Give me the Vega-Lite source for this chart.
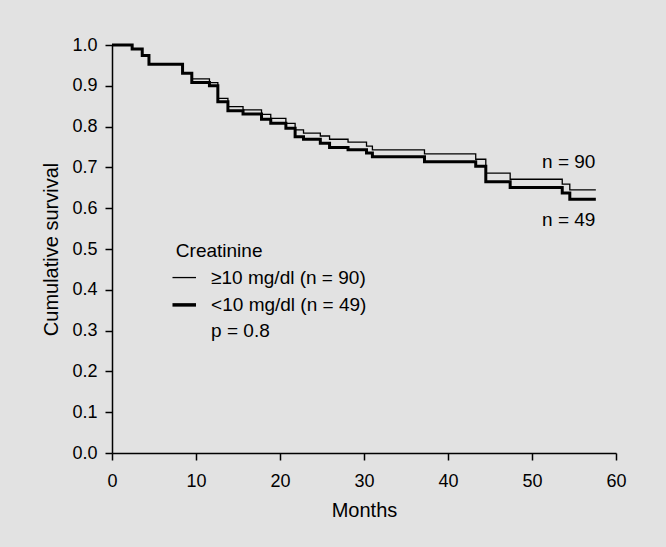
{
  "$schema": "https://vega.github.io/schema/vega-lite/v6.json",
  "width": 504,
  "height": 408,
  "autosize": {"type": "none"},
  "padding": {"left": 112, "top": 45, "right": 50, "bottom": 94},
  "background": "#e2e2e2",
  "config": {
    "view": {"stroke": null},
    "font": "Liberation Sans",
    "axis": {
      "grid": false,
      "domainColor": "#000000",
      "domainWidth": 1.5,
      "tickColor": "#000000",
      "tickWidth": 1.5,
      "tickSize": 7,
      "labelColor": "#000000",
      "titleColor": "#000000",
      "labelFontSize": 18,
      "titleFontSize": 20,
      "titleFontWeight": "normal",
      "labelPadding": 8,
      "labelFlush": false,
      "labelFont": "Liberation Sans",
      "titleFont": "Liberation Sans"
    }
  },
  "datasets": {
    "curves": [
      {"group": "ge10", "month": 0, "surv": 1.0},
      {"group": "ge10", "month": 2.4, "surv": 0.99},
      {"group": "ge10", "month": 3.6, "surv": 0.974},
      {"group": "ge10", "month": 4.4, "surv": 0.953},
      {"group": "ge10", "month": 8.4, "surv": 0.931},
      {"group": "ge10", "month": 9.5, "surv": 0.917},
      {"group": "ge10", "month": 11.6, "surv": 0.908},
      {"group": "ge10", "month": 12.6, "surv": 0.869},
      {"group": "ge10", "month": 13.8, "surv": 0.849},
      {"group": "ge10", "month": 15.6, "surv": 0.841},
      {"group": "ge10", "month": 17.8, "surv": 0.83},
      {"group": "ge10", "month": 18.9, "surv": 0.82},
      {"group": "ge10", "month": 20.7, "surv": 0.808},
      {"group": "ge10", "month": 21.8, "surv": 0.792},
      {"group": "ge10", "month": 22.8, "surv": 0.784},
      {"group": "ge10", "month": 24.8, "surv": 0.777},
      {"group": "ge10", "month": 25.9, "surv": 0.769},
      {"group": "ge10", "month": 28.1, "surv": 0.762},
      {"group": "ge10", "month": 30.3, "surv": 0.752},
      {"group": "ge10", "month": 31.0, "surv": 0.743},
      {"group": "ge10", "month": 37.2, "surv": 0.733},
      {"group": "ge10", "month": 43.3, "surv": 0.72},
      {"group": "ge10", "month": 44.5, "surv": 0.686},
      {"group": "ge10", "month": 47.4, "surv": 0.671},
      {"group": "ge10", "month": 53.6, "surv": 0.659},
      {"group": "ge10", "month": 54.5, "surv": 0.645},
      {"group": "ge10", "month": 57.6, "surv": 0.645},
      {"group": "lt10", "month": 0, "surv": 1.0},
      {"group": "lt10", "month": 2.4, "surv": 0.99},
      {"group": "lt10", "month": 3.6, "surv": 0.974},
      {"group": "lt10", "month": 4.4, "surv": 0.953},
      {"group": "lt10", "month": 8.4, "surv": 0.931},
      {"group": "lt10", "month": 9.5, "surv": 0.908},
      {"group": "lt10", "month": 11.6, "surv": 0.9},
      {"group": "lt10", "month": 12.6, "surv": 0.861},
      {"group": "lt10", "month": 13.8, "surv": 0.839},
      {"group": "lt10", "month": 15.6, "surv": 0.831},
      {"group": "lt10", "month": 17.8, "surv": 0.818},
      {"group": "lt10", "month": 18.9, "surv": 0.808},
      {"group": "lt10", "month": 20.7, "surv": 0.796},
      {"group": "lt10", "month": 21.8, "surv": 0.775},
      {"group": "lt10", "month": 22.8, "surv": 0.769},
      {"group": "lt10", "month": 24.8, "surv": 0.759},
      {"group": "lt10", "month": 25.9, "surv": 0.749},
      {"group": "lt10", "month": 28.1, "surv": 0.743},
      {"group": "lt10", "month": 30.3, "surv": 0.735},
      {"group": "lt10", "month": 31.0, "surv": 0.726},
      {"group": "lt10", "month": 37.2, "surv": 0.714},
      {"group": "lt10", "month": 43.3, "surv": 0.703},
      {"group": "lt10", "month": 44.5, "surv": 0.665},
      {"group": "lt10", "month": 47.4, "surv": 0.651},
      {"group": "lt10", "month": 53.6, "surv": 0.637},
      {"group": "lt10", "month": 54.5, "surv": 0.622},
      {"group": "lt10", "month": 57.6, "surv": 0.622}
    ],
    "legendLines": [
      {"group": "ge10", "x1": 7.2, "x2": 10.0, "y": 0.43},
      {"group": "lt10", "x1": 7.2, "x2": 10.0, "y": 0.363}
    ],
    "labels": [
      {"label": "Creatinine", "x": 7.6, "y": 0.495},
      {"label": "≥10 mg/dl (n = 90)", "x": 11.8, "y": 0.43},
      {"label": "<10 mg/dl (n = 49)", "x": 11.8, "y": 0.363},
      {"label": "p = 0.8", "x": 11.8, "y": 0.298},
      {"label": "n = 90", "x": 51.2, "y": 0.714},
      {"label": "n = 49", "x": 51.2, "y": 0.571}
    ]
  },
  "layer": [
    {
      "data": {"name": "curves"},
      "transform": [{"filter": "datum.group === 'ge10'"}],
      "mark": {"type": "line", "interpolate": "step-after", "color": "#000000", "strokeWidth": 1.3},
      "encoding": {
        "x": {
          "field": "month", "type": "quantitative",
          "scale": {"domain": [0, 60], "nice": false, "zero": false},
          "axis": {"values": [0, 10, 20, 30, 40, 50, 60], "title": "Months", "labelPadding": 12, "titlePadding": 10}
        },
        "y": {
          "field": "surv", "type": "quantitative",
          "scale": {"domain": [0, 1], "nice": false},
          "axis": {"values": [0, 0.1, 0.2, 0.3, 0.4, 0.5, 0.6, 0.7, 0.8, 0.9, 1.0], "format": ".1f", "title": "Cumulative survival", "titlePadding": 10}
        }
      }
    },
    {
      "data": {"name": "curves"},
      "transform": [{"filter": "datum.group === 'lt10'"}],
      "mark": {"type": "line", "interpolate": "step-after", "color": "#000000", "strokeWidth": 3},
      "encoding": {
        "x": {"field": "month", "type": "quantitative"},
        "y": {"field": "surv", "type": "quantitative"}
      }
    },
    {
      "data": {"name": "legendLines"},
      "transform": [{"filter": "datum.group === 'ge10'"}],
      "mark": {"type": "rule", "color": "#000000", "strokeWidth": 1.3},
      "encoding": {
        "x": {"field": "x1", "type": "quantitative"},
        "x2": {"field": "x2"},
        "y": {"field": "y", "type": "quantitative"}
      }
    },
    {
      "data": {"name": "legendLines"},
      "transform": [{"filter": "datum.group === 'lt10'"}],
      "mark": {"type": "rule", "color": "#000000", "strokeWidth": 3.5},
      "encoding": {
        "x": {"field": "x1", "type": "quantitative"},
        "x2": {"field": "x2"},
        "y": {"field": "y", "type": "quantitative"}
      }
    },
    {
      "data": {"name": "labels"},
      "mark": {"type": "text", "align": "left", "baseline": "middle", "fontSize": 19, "color": "#000000", "font": "Liberation Sans"},
      "encoding": {
        "x": {"field": "x", "type": "quantitative"},
        "y": {"field": "y", "type": "quantitative"},
        "text": {"field": "label", "type": "nominal"}
      }
    }
  ]
}
